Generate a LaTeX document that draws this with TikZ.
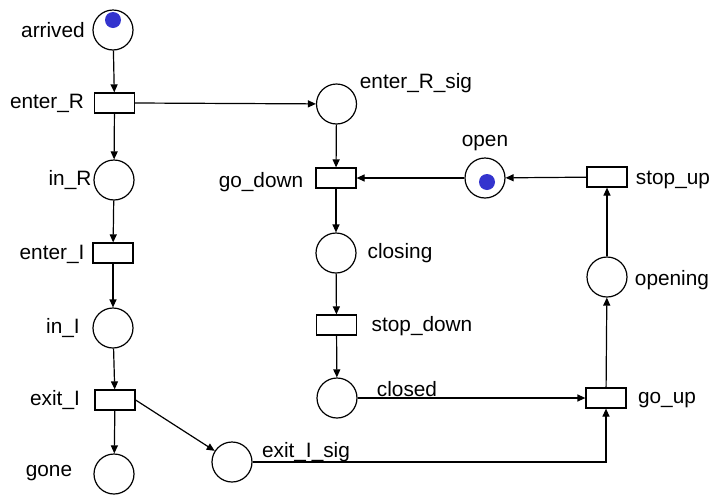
\documentclass[tikz,border=0pt]{standalone}
\usepackage{fontspec}
\setmainfont{Liberation Sans}
\usetikzlibrary{arrows.meta}
\definecolor{tokenblue}{RGB}{52,52,206}
\begin{document}
\begin{tikzpicture}[x=1pt,y=-1pt,
  line width=1.2pt,
  place/.style={circle,draw,minimum size=40pt,inner sep=0pt},
  trans/.style={rectangle,draw,minimum width=40pt,minimum height=20pt,inner sep=0pt},
  lbl/.style={inner sep=0pt,font=\fontsize{20.8}{25}\selectfont},
  tok/.style={circle,fill=tokenblue,minimum size=16pt,inner sep=0pt},
  arc/.style={-{Triangle[length=8pt,width=7pt]}}]
\useasboundingbox (0,0) rectangle (716,496);
\fill[white] (0,0) rectangle (716,496);

% left column: the car
\node[place] (arrived) at (113,30) {};
\node[tok] (tokA) at (113,20) {};
\node[trans] (enterR) at (114.5,103) {};
\node[place] (inR) at (114,180) {};
\node[trans] (enterI) at (113,253) {};
\node[place] (inI) at (113,328) {};
\node[trans] (exitI) at (115,400) {};
\node[place] (gone) at (114,474) {};

% signals
\node[place] (enterRsig) at (336.5,104) {};
\node[place] (exitIsig) at (232,462) {};

% middle column: the gate going down
\node[trans] (godown) at (336,178) {};
\node[place] (closing) at (336,253) {};
\node[trans] (stopdown) at (336.5,325) {};
\node[place] (closed) at (337,398) {};

% right side: the gate going up
\node[place] (open) at (485,178) {};
\node[tok] (tokO) at (487,182) {};
\node[trans] (stopup) at (607,177) {};
\node[place] (opening) at (607,277) {};
\node[trans] (goup) at (606,398) {};
\coordinate (corner) at (606,462);

% labels
\node[lbl] (l1) at (53,30) {arrived};
\node[lbl] (l2) at (47,103) {enter\_R};
\node[lbl] (l3) at (70,180) {in\_R};
\node[lbl] (l4) at (52,254) {enter\_I};
\node[lbl] (l5) at (63,328) {in\_I};
\node[lbl] (l6) at (55,400) {exit\_I};
\node[lbl] (l7) at (49,473) {gone};
\node[lbl] (l8) at (416,83) {enter\_R\_sig};
\node[lbl] (l9) at (306,452) {exit\_I\_sig};
\node[lbl] (l10) at (261,182) {go\_down};
\node[lbl] (l11) at (400,253) {closing};
\node[lbl] (l12) at (422,326) {stop\_down};
\node[lbl] (l13) at (407,389) {closed};
\node[lbl] (l14) at (485,143) {open};
\node[lbl] (l15) at (673,180) {stop\_up};
\node[lbl] (l16) at (672,280) {opening};
\node[lbl] (l17) at (667,400) {go\_up};

% arcs
\draw[arc] (arrived) -- (enterR);
\draw[arc] (enterR) -- (inR);
\draw[arc] (inR) -- (enterI);
\draw[arc] (enterI) -- (inI);
\draw[arc] (inI) -- (exitI);
\draw[arc] (exitI) -- (gone);
\draw[arc] (exitI.east) -- (exitIsig);
\draw[arc] (enterR.east) -- (enterRsig);
\draw[arc] (enterRsig) -- (godown);
\draw[arc] (godown) -- (closing);
\draw[arc] (closing) -- (stopdown);
\draw[arc] (stopdown) -- (closed);
\draw[arc] (closed) -- (goup);
\draw[arc] (exitIsig) -- (corner) -- (goup);
\draw[arc] (goup) -- (opening);
\draw[arc] (opening) -- (stopup);
\draw[arc] (stopup) -- (open);
\draw[arc] (open) -- (godown);
\end{tikzpicture}
\end{document}
